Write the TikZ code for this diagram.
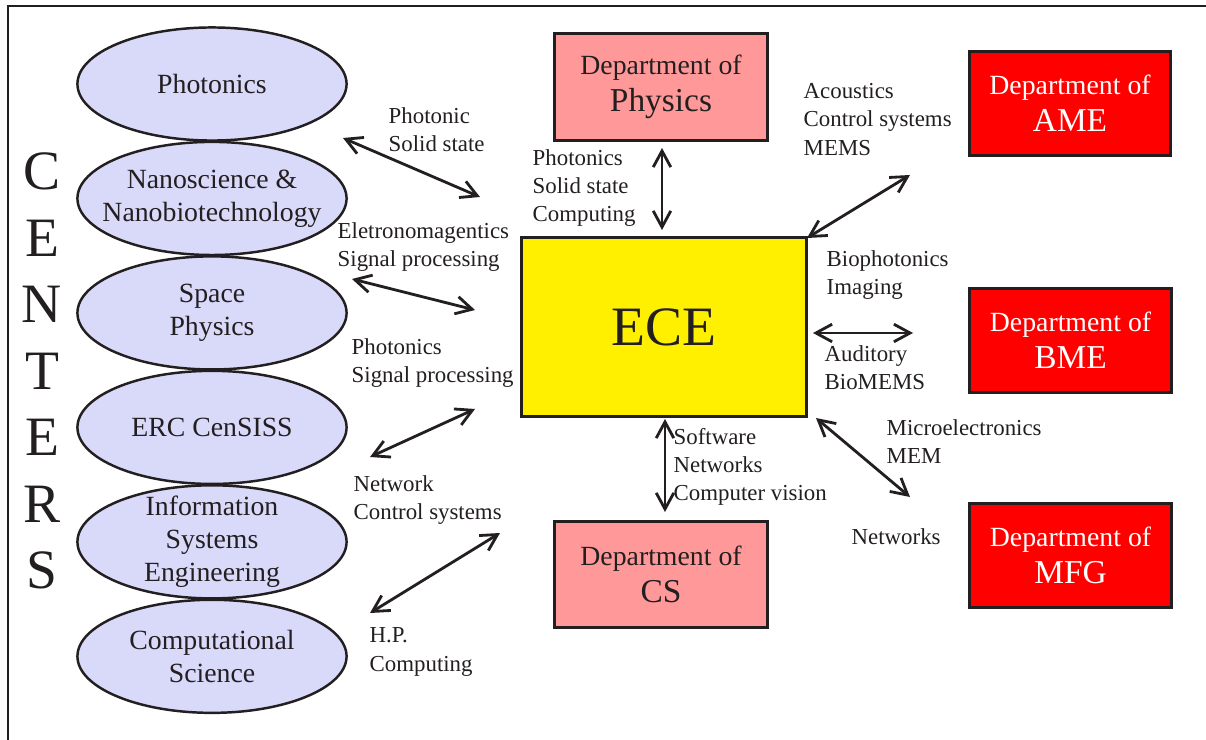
\documentclass[tikz,border=0pt]{standalone}
\usepackage{fontspec}
\setmainfont{Liberation Serif}
\usetikzlibrary{shapes.geometric,positioning,arrows.meta}
\definecolor{ink}{RGB}{35,31,32}
\definecolor{lavender}{RGB}{217,217,250}
\definecolor{pinkbox}{RGB}{255,153,153}
\definecolor{redbox}{RGB}{255,0,0}
\definecolor{ecebox}{RGB}{255,240,0}

\begin{document}
\begin{tikzpicture}
  [
    x=0.01cm, y=-0.01cm,
    node distance=1.144cm,
    centre/.style={draw=ink, ellipse, fill=lavender, line width=0.7pt, minimum width=2.69cm, minimum height=1.13cm, inner xsep=-5pt, inner ysep=-5pt, align=center, text=ink, font=\fontsize{7.9}{9.4}\selectfont},
    dept/.style={draw=ink, rectangle, line width=0.85pt, minimum width=2.12cm, minimum height=1.06cm, inner sep=0pt, align=center, fill=pinkbox, text=ink, font=\fontsize{7.9}{10.6}\selectfont},
    extdept/.style={dept, fill=redbox, text=white, minimum width=2.01cm, minimum height=1.03cm},
    core/.style={draw=ink, rectangle, line width=0.85pt, minimum width=2.84cm, minimum height=1.78cm, fill=ecebox, text=ink, font=\fontsize{15.8}{18}\selectfont},
    topic/.style={anchor=west, align=left, inner sep=0pt, text=ink, font=\fontsize{6.5}{8}\selectfont},
    link/.style={<->, draw=ink, line width=0.8pt, >={Straight Barb[length=4.6pt,width=5pt]}}
  ]
  \useasboundingbox (0,0) rectangle (1206,740);
  \draw [ink, line width=0.6pt] (8,760) -- (8,6) -- (1220,6);

  \node (centers) [text=ink, align=center, inner sep=0pt, font=\fontsize{15.8}{18.9}\selectfont] at (42,371) {C\\E\\N\\T\\E\\R\\S};

  \node (phot) [centre] at (212,84) {Photonics};
  \node (nano) [centre, below of=phot] {Nanoscience \&\\Nanobiotechnology};
  \node (space) [centre, below of=nano] {Space\\Physics};
  \node (erc) [centre, below of=space] {ERC CenSISS};
  \node (ise) [centre, below of=erc] {Information\\Systems\\Engineering};
  \node (comp) [centre, below of=ise] {Computational\\Science};

  \node (ece) [core] at (664,327) {ECE};
  \node (phys) [dept] at (661,87) {Department of\\{\fontsize{9.5}{10.6}\selectfont Physics}};
  \node (cs) [dept] at (661,574.5) {Department of\\{\fontsize{9.5}{10.6}\selectfont CS}};
  \node (ame) [extdept] at (1070,103.5) {Department of\\{\fontsize{9.5}{10.6}\selectfont AME}};
  \node (bme) [extdept] at (1070.5,340.5) {Department of\\{\fontsize{9.5}{10.6}\selectfont BME}};
  \node (mfg) [extdept] at (1070.5,555.5) {Department of\\{\fontsize{9.5}{10.6}\selectfont MFG}};

  \node (tphot) [topic] at (388,130) {Photonic\\Solid state};
  \node (tphys) [topic] at (532,188) {Photonics\\Solid state\\Computing};
  \node (tame) [topic] at (803,119.5) {Acoustics\\Control systems\\MEMS};
  \node (tspace) [topic] at (337,247) {Eletronomagentics\\Signal processing};
  \node (tbio) [topic] at (826,275) {Biophotonics\\Imaging};
  \node (tbme) [topic] at (824,367.5) {Auditory\\BioMEMS};
  \node (terc) [topic] at (351,363) {Photonics\\Signal processing};
  \node (tcs) [topic] at (673,467) {Software\\Networks\\Computer vision};
  \node (tmfg) [topic] at (886,441.5) {Microelectronics\\MEM};
  \node (tise) [topic] at (353,500) {Network\\Control systems};
  \node (tnet) [topic] at (851,537) {Networks};
  \node (tcomp) [topic] at (369,652) {H.P.\\Computing};

  \coordinate (phota) at (343,138);
  \coordinate (photb) at (480,197);
  \coordinate (spacea) at (352,279);
  \coordinate (spaceb) at (475,310);
  \coordinate (erca) at (370,457);
  \coordinate (ercb) at (475,409);
  \coordinate (compa) at (370,613);
  \coordinate (compb) at (500,533);
  \coordinate (physa) at (662,148);
  \coordinate (physb) at (662,230);
  \coordinate (csa) at (665,419);
  \coordinate (csb) at (665,512);
  \coordinate (amea) at (807,238);
  \coordinate (ameb) at (910,175);
  \coordinate (bmea) at (813,333);
  \coordinate (bmeb) at (913,333);
  \coordinate (mfga) at (816,418);
  \coordinate (mfgb) at (910,497);

  \draw [link] (phota) -- (photb);
  \draw [link] (spacea) -- (spaceb);
  \draw [link] (erca) -- (ercb);
  \draw [link] (compa) -- (compb);
  \draw [link] (physa) -- (physb);
  \draw [link] (csa) -- (csb);
  \draw [link] (amea) -- (ameb);
  \draw [link] (bmea) -- (bmeb);
  \draw [link] (mfga) -- (mfgb);
\end{tikzpicture}
\end{document}
